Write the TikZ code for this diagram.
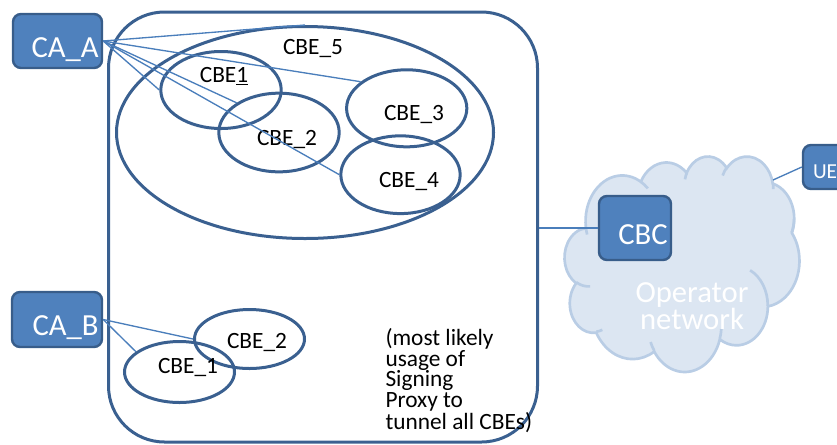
\documentclass[tikz,border=0pt]{standalone}
\usepackage{fontspec}
\setmainfont{Carlito}
\usetikzlibrary{shapes.geometric}

\definecolor{boxfill}{RGB}{79,129,189}
\definecolor{boxline}{RGB}{56,93,138}
\definecolor{ringline}{RGB}{58,96,144}
\definecolor{linkline}{RGB}{74,126,187}
\definecolor{cloudfill}{RGB}{220,230,242}
\definecolor{cloudline}{RGB}{185,205,229}

\tikzset{every picture/.style={line width=0.75pt}}
\tikzset{
	entity/.style={draw=boxline, line width=1.8pt, fill=boxfill, rounded corners=6pt,
		text=white, font=\fontsize{23}{27}\selectfont, align=right,
		inner xsep=2.5pt, inner ysep=0pt, text height=26pt, text depth=2pt},
	cbering/.style={ellipse, draw=ringline, line width=2.25pt, inner sep=0pt},
	cbelabel/.style={anchor=base, inner sep=0pt, font=\fontsize{17.5}{21}\selectfont},
	link/.style={draw=linkline, line width=1pt}
}

\begin{document}
\begin{tikzpicture}[x=0.75pt,y=0.75pt,yscale=-1,xscale=1]
	\useasboundingbox (0,0) rectangle (837,444);
	\clip (0,0) rectangle (837,444);

	%Shape: Cloud
	\begin{scope}[shift={(564.7,155.8)}, x=0.040748pt, y=0.037398pt]
	\draw [cloudline, fill=cloudfill, line width=2pt] (390,1437)
		arc [start angle=172.25, end angle=300.36, x radius=675.3, y radius=919]
		arc [start angle=207.98, end angle=314.55, x radius=533.3, y radius=726.7]
		arc [start angle=206.52, end angle=322.66, x radius=436.5, y radius=594.5]
		arc [start angle=220.30, end angle=349.78, x radius=485.7, y radius=659.5]
		arc [start angle=-74.77, end angle=23.22, x radius=533.3, y radius=727.3]
		arc [start angle=-37.52, end angle=81.86, x radius=677.5, y radius=922]
		arc [start angle=0.46, end angle=121.98, x radius=578.5, y radius=786.7]
		arc [start angle=16.85, end angle=146.22, x radius=675.2, y radius=921.5]
		arc [start angle=58.98, end angle=150.20, x radius=772, y radius=1054.3]
		arc [start angle=83.31, end angle=223.12, x radius=436, y radius=591.8]
		arc [start angle=120.35, end angle=264.11, x radius=434.5, y radius=594.5]
		-- cycle;
	\draw [cloudline, line width=2pt]
		(469.3,2617.7) arc [start angle=85.55, end angle=120.35, x radius=434.5, y radius=594.5]
		(692.8,3489.9) arc [start angle=68.23, end angle=83.31, x radius=436, y radius=591.8]
		(1647.8,3909) arc [start angle=146.22, end angle=158.47, x radius=675.2, y radius=921.5]
		(2882.7,3475.1) arc [start angle=4.74, end angle=16.85, x radius=675.2, y radius=921.5]
		(3412.9,2295.4) arc [start angle=-64.03, end angle=0.46, x radius=578.5, y radius=786.7]
		(4179.8,1535.4) arc [start angle=23.22, end angle=1.88, x radius=533.3, y radius=727.3]
		(3832.4,542.6) arc [start angle=-10.22, end angle=0.82, x radius=485.7, y radius=659.5]
		(2907.8,395.2) arc [start angle=-156.30, end angle=-139.70, x radius=485.7, y radius=659.5]
		(2214.1,472) arc [start angle=-167.72, end angle=-153.48, x radius=436.5, y radius=594.5]
		(1400,519.2) arc [start angle=-59.64, end angle=-45.74, x radius=675.3, y radius=919]
		(412.7,1578.9) arc [start angle=163.19, end angle=172.25, x radius=675.3, y radius=919];
	\end{scope}

	% Text Node
	\node [anchor=north, inner sep=0pt, align=center, text=white, font=\fontsize{23}{18.75}\selectfont] (opnet) at (692,282) {Operator\\network};

	%Shape: Rounded Rect
	\node [draw=ringline, line width=2.25pt, rounded corners=42pt, minimum width=321.75pt, minimum height=322.5pt, inner sep=0pt] (domain) at (323,227) {};

	%Shape: Ellipse
	\node [cbering, minimum width=282.75pt, minimum height=159pt] (cbeFive) at (305,132.5) {};
	\node [cbering, minimum width=90.3pt, minimum height=57.75pt] (cbeOne) at (221,90) {};
	\node [cbering, minimum width=90.3pt, minimum height=59pt] (cbeTwo) at (279,132.5) {};
	\node [cbering, minimum width=90.2pt, minimum height=57.75pt] (cbeThree) at (406.7,108.3) {};
	\node [cbering, minimum width=89.5pt, minimum height=58.3pt] (cbeFour) at (400.5,174.7) {};
	\node [cbering, minimum width=82.5pt, minimum height=44.25pt] (lowTwo) at (249.5,339) {};
	\node [cbering, minimum width=82.5pt, minimum height=45.75pt] (lowOne) at (179.5,372) {};

	% Text Node
	\node [cbelabel] (lblFive) at (313,54) {CBE\_5};
	\node [cbelabel] (lblOne) at (224,82) {CBE\underline{1}};
	\node [cbelabel] (lblTwo) at (287,145) {CBE\_2};
	\node [cbelabel] (lblThree) at (414,120) {CBE\_3};
	\node [cbelabel] (lblFour) at (409,187) {CBE\_4};
	\node [cbelabel] (lblLowTwo) at (257,348) {CBE\_2};
	\node [cbelabel] (lblLowOne) at (188,373) {CBE\_1};
	\node [anchor=north west, inner sep=0pt, align=left, font=\fontsize{17.5}{15.5}\selectfont] (note) at (385,328) {(most likely\\usage of\\Signing\\Proxy to\\tunnel all CBEs)};

	%Shape: Rounded Rect
	\node [entity, text width=61.75pt, minimum height=40.5pt] (caA) at (57.5,41) {CA\_A};
	\node [entity, text width=62.5pt, minimum height=41.25pt] (caB) at (57,319.5) {CA\_B};
	\node [entity, text width=49pt, minimum height=48pt] (cbc) at (635,228) {CBC};
	\node [entity, align=left, inner xsep=7.5pt, text width=37.5pt, minimum height=33pt, font=\fontsize{16}{19}\selectfont, text height=18.5pt] (ue) at (838,167) {UE};

	%Straight Lines
	\draw [link] (caA.east) -- (cbeFive.north);
	\draw [link] (caA.east) -- (cbeThree.150);
	\draw [link] (caA.east) -- (cbeOne.west);
	\draw [link] (caA.east) -- (cbeTwo.145);
	\draw [link] (caA.east) -- (cbeFour.west);
	\draw [link] (caB.east) -- (lowTwo.west);
	\draw [link] (caB.east) -- (lowOne.155);
	\draw [link] (cbc.west -| domain.east) -- (cbc.west);
	\coordinate (cloudUE) at (773,180);
	\draw [link] (ue.west) -- (cloudUE);

\end{tikzpicture}
\end{document}
